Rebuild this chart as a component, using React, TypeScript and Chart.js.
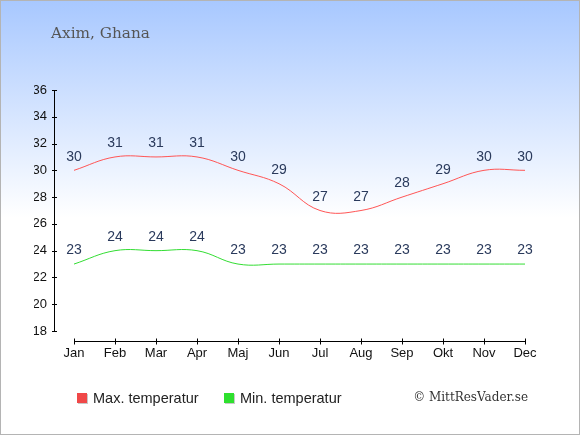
import React, { useEffect, useRef } from "react";
import { Chart, registerables } from "chart.js";

Chart.register(...registerables);

const months = ["Jan", "Feb", "Mar", "Apr", "Maj", "Jun", "Jul", "Aug", "Sep", "Okt", "Nov", "Dec"];
const maxTemp = [30, 31, 31, 31, 30, 29, 27, 27, 28, 29, 30, 30];
const minTemp = [23, 24, 24, 24, 23, 23, 23, 23, 23, 23, 23, 23];
const yTicks = [18, 20, 22, 24, 26, 28, 30, 32, 34, 36];
const title = "Axim, Ghana";
const maxLabel = "Max. temperatur";
const minLabel = "Min. temperatur";
const credit = "© MittResVader.se";

const RED = "#ff5555";
const GREEN = "#33dd33";
const RED_BOX = "#f04848";
const GREEN_BOX = "#2ee02e";

const SANS = "'Liberation Sans', Arial, sans-serif";
const SERIF = "'DejaVu Serif', serif";

const decorPlugin = {
  id: "decor",
  afterDraw(chart: any) {
    const ctx = chart.ctx as CanvasRenderingContext2D;
    const area = chart.chartArea;
    const xs = chart.scales.x;
    const ys = chart.scales.y;
    ctx.save();
    // y axis
    const ax = area.left - 19.5;
    const yTop = ys.getPixelForValue(yTicks[yTicks.length - 1]);
    const yBot = ys.getPixelForValue(yTicks[0]);
    ctx.strokeStyle = "#000";
    ctx.lineWidth = 1;
    ctx.beginPath();
    ctx.moveTo(ax, Math.round(yTop) + 0.5);
    ctx.lineTo(ax, Math.round(yBot) + 0.5);
    yTicks.forEach((v) => {
      const py = Math.round(ys.getPixelForValue(v)) + 0.5;
      ctx.moveTo(ax - 2.5, py);
      ctx.lineTo(ax + 2.5, py);
    });
    ctx.stroke();
    // x axis
    const ay = Math.round(area.bottom + 10) + 0.5;
    const x0 = xs.getPixelForValue(0);
    const x1 = xs.getPixelForValue(months.length - 1);
    ctx.beginPath();
    ctx.moveTo(Math.round(x0) + 0.5, ay);
    ctx.lineTo(Math.round(x1) + 0.5, ay);
    months.forEach((_, i) => {
      const px = Math.round(xs.getPixelForValue(i)) + 0.5;
      ctx.moveTo(px, ay - 3);
      ctx.lineTo(px, ay + 3);
    });
    ctx.stroke();

    // data labels
    ctx.fillStyle = "#2a3a5c";
    ctx.font = `14px ${SANS}`;
    ctx.textAlign = "center";
    ctx.textBaseline = "middle";
    chart.data.datasets.forEach((ds: any) => {
      ds.data.forEach((v: number, i: number) => {
        const px = xs.getPixelForValue(i);
        const py = ys.getPixelForValue(v);
        ctx.fillText(String(v), px, py - 13.5);
      });
    });

    // title
    ctx.fillStyle = "#555555";
    ctx.font = `15.3px ${SERIF}`;
    ctx.textAlign = "left";
    ctx.textBaseline = "middle";
    ctx.fillText(title, 50, 33);

    // legend
    const drawBox = (x: number, y: number, color: string) => {
      ctx.fillStyle = "#c8c8c8";
      ctx.fillRect(x + 1, y + 1, 10, 10);
      ctx.fillStyle = color;
      ctx.fillRect(x, y, 10, 10);
    };
    const ly = 392;
    drawBox(76, ly, RED_BOX);
    drawBox(223, ly, GREEN_BOX);
    ctx.fillStyle = "#222222";
    ctx.font = `14.5px ${SANS}`;
    ctx.textBaseline = "middle";
    ctx.fillText(maxLabel, 92, ly + 5.5);
    ctx.fillText(minLabel, 239, ly + 5.5);

    // credit
    ctx.fillStyle = "#333333";
    ctx.font = `12px ${SERIF}`;
    ctx.textAlign = "right";
    ctx.fillText(credit, 527, ly + 5);
    ctx.restore();
  },
};

export default function App() {
  const ref = useRef<HTMLCanvasElement | null>(null);
  useEffect(() => {
    document.body.style.margin = "0";
    if (!ref.current) return;
    const chart = new Chart(ref.current, {
      type: "line",
      data: {
        labels: months,
        datasets: [
          {
            label: maxLabel,
            data: maxTemp,
            borderColor: RED,
            borderWidth: 1,
            pointRadius: 0,
            tension: 0.4,
            fill: false,
          },
          {
            label: minLabel,
            data: minTemp,
            borderColor: GREEN,
            borderWidth: 1,
            pointRadius: 0,
            tension: 0.4,
            fill: false,
          },
        ],
      },
      options: {
        animation: false,
        responsive: false,
        devicePixelRatio: 1,
        layout: { padding: { top: 89, left: 33, right: 54, bottom: 73 } },
        plugins: {
          legend: { display: false },
          tooltip: { enabled: false },
          title: { display: false },
        },
        scales: {
          x: {
            type: "category",
            offset: false,
            grid: { display: false, drawTicks: false },
            border: { display: false },
            ticks: {
              color: "#111",
              font: { family: SANS, size: 13 },
              padding: 15,
              maxRotation: 0,
              autoSkip: false,
            },
            afterFit: (s: any) => {
              s.height = 30;
            },
          },
          y: {
            min: 18,
            max: 36,
            grid: { display: false, drawTicks: false },
            border: { display: false },
            ticks: {
              stepSize: 2,
              color: "#111",
              font: { family: SANS, size: 13 },
              padding: 27,
            },
            afterFit: (s: any) => {
              s.width = 40;
            },
          },
        },
      },
      plugins: [decorPlugin],
    });
    return () => chart.destroy();
  }, []);
  return (
    <div
      style={{
        position: "absolute",
        left: 0,
        top: 0,
        width: 580,
        height: 435,
        boxSizing: "border-box",
        border: "1px solid #b4b4b4",
        background: "linear-gradient(to bottom, #a8c8ff 0%, #ffffff 50%, #ffffff 100%)",
      }}
    >
      <canvas ref={ref} width={578} height={433} style={{ display: "block", width: 578, height: 433 }} />
    </div>
  );
}
